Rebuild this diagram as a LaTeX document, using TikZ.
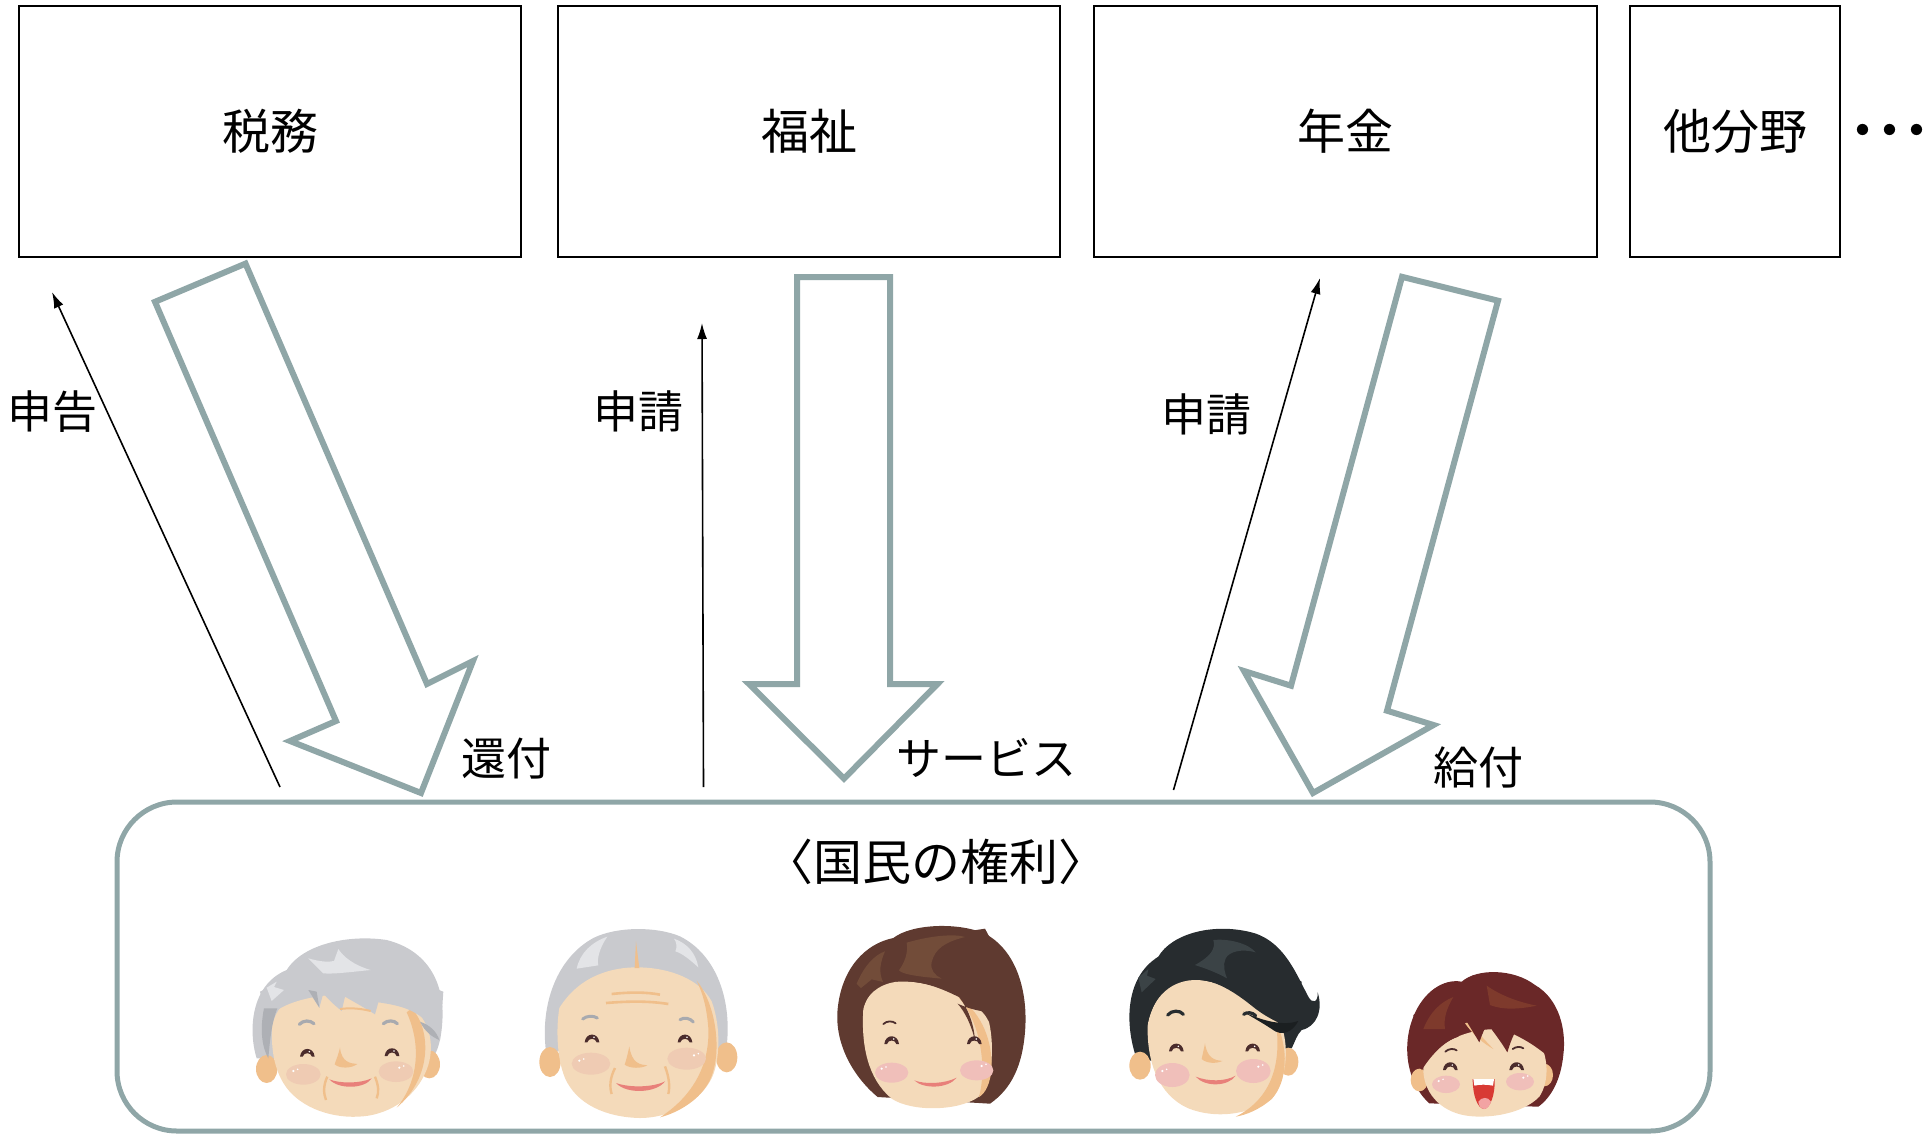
\documentclass[tikz,border=0pt]{standalone}
\usepackage{fontspec}
\setmainfont{Noto Sans CJK JP}
\usetikzlibrary{arrows.meta}

\definecolor{flowc}{HTML}{8FA6A7}
\definecolor{skin}{HTML}{F4DABA}
\definecolor{skinshade}{HTML}{F0BF8B}
\definecolor{cheekold}{HTML}{EFCBB3}
\definecolor{cheekpink}{HTML}{F0BFBA}
\definecolor{mouthc}{HTML}{E8807A}
\definecolor{eyec}{HTML}{4B2C2C}
\definecolor{grayhair}{HTML}{C9CACE}
\definecolor{grayhl}{HTML}{E3E4E7}
\definecolor{grayshadow}{HTML}{AEB0B5}
\definecolor{graybrow}{HTML}{A8AAAF}
\definecolor{brownhair}{HTML}{5F3A30}
\definecolor{brownhl}{HTML}{724C39}
\definecolor{blackhair}{HTML}{272C2F}
\definecolor{blackhl}{HTML}{3B4346}
\definecolor{blackdark}{HTML}{1B1F21}
\definecolor{redhair}{HTML}{6A2828}
\definecolor{redhl}{HTML}{7E3A2C}
\definecolor{mouthred}{HTML}{D83A34}
\definecolor{tongue}{HTML}{F2A3A3}

\tikzset{
  dept/.style={draw=black, line width=1pt, minimum height=125.5pt, inner sep=0pt,
    font=\fontsize{24}{28}\selectfont},
  flow/.style={draw=flowc, line width=3pt, fill=white, line join=miter},
  req/.style={draw=black, line width=0.8pt, -{Latex[length=8pt,width=5pt]}},
  lbl/.style={font=\fontsize{22.5}{26}\selectfont, inner sep=0pt},
  pics/closedeye/.style={code={
    \fill[eyec] (-22,9) .. controls (-19,-22) and (19,-22) .. (22,9)
      -- (14,9) .. controls (11,-5) and (-11,-5) .. (-14,9) -- cycle;
    \fill[white] (6,-6) circle[radius=2.6];
  }},
  pics/glint/.style={code={
    \fill[white] (0,0) circle[radius=3.6];
    \fill[white] (13,-5) circle[radius=2.6];
  }},
}

\begin{document}
\begin{tikzpicture}[x=0.5pt,y=-0.5pt]
\useasboundingbox (0,0) rectangle (1932,1136);

% ---------- departments ----------
\node (zeimu)  [dept, minimum width=251.25pt] at (270,131.5)  {税務};
\node (fukushi)[dept, minimum width=251pt]    at (809,131.5)  {福祉};
\node (nenkin) [dept, minimum width=251.5pt]  at (1345.5,131.5) {年金};
\node (hoka)   [dept, minimum width=105pt]    at (1735,131.5) {他分野};
\node (etc) [font=\fontsize{27}{30}\selectfont\bfseries, inner sep=0pt] at (1890,137) {･･･};

% ---------- citizens ----------
\node (kokumin) [draw=flowc, line width=2.5pt, rounded corners=30pt,
  minimum width=796.5pt, minimum height=164.5pt] at (913.5,966.5) {};
\node (kenri) [lbl, font=\fontsize{24.5}{28}\selectfont] at (936,862) {〈国民の権利〉};

% ---------- requests (citizen -> office) ----------
\coordinate (shinkokuS) at (280,787);
\coordinate (shinkokuE) at (52,292);
\coordinate (shinsei1S) at (703.5,787);
\coordinate (shinsei1E) at (702,323);
\coordinate (shinsei2S) at (1173.5,790);
\coordinate (shinsei2E) at (1320,278);
\draw[req] (shinkokuS) -- (shinkokuE);
\draw[req] (shinsei1S) -- (shinsei1E);
\draw[req] (shinsei2S) -- (shinsei2E);

% ---------- benefits (office -> citizen) ----------
\draw[flow] (245.5,263.6) -- (155,301.8) -- (336,721) -- (290,741) -- (421,793)
  -- (473,661) -- (427,684) -- cycle;
\draw[flow] (797,277) -- (890,277) -- (890,684) -- (937.5,684) -- (844,778.6)
  -- (749,684) -- (797,684) -- cycle;
\draw[flow] (1402,276.8) -- (1498,300.7) -- (1387,710.7) -- (1433.5,725) -- (1313,793)
  -- (1244,671) -- (1291,685.7) -- cycle;

% ---------- labels ----------
\node (lshinkoku) [lbl] at (53,411.5) {申告};
\node (lshinsei1) [lbl] at (638,411.5) {申請};
\node (lshinsei2) [lbl] at (1206,414) {申請};
\node (lkanpu)    [lbl] at (506,759) {還付};
\node (lservice)  [lbl] at (986,758) {サービス};
\node (lkyufu)    [lbl] at (1478.5,767.5) {給付};

% ---------- grandmother ----------
\begin{scope}[shift={(240,925)}, scale=1/3]
  \fill[grayhair] (50,400) .. controls (25,320) and (30,180) .. (140,135)
    .. controls (190,55) and (330,28) .. (440,45)
    .. controls (560,75) and (615,170) .. (607,290)
    .. controls (603,360) and (585,400) .. (560,420) -- cycle;
  \fill[skinshade] (80,432) ellipse[x radius=32, y radius=42];
  \fill[skinshade] (568,418) ellipse[x radius=32, y radius=42];
  \fill[skin] (100,265) .. controls (88,360) and (100,440) .. (145,495)
    .. controls (200,560) and (300,585) .. (385,572)
    .. controls (470,558) and (540,500) .. (565,420)
    .. controls (585,350) and (565,285) .. (515,245)
    .. controls (420,190) and (180,195) .. (100,265) -- cycle;
  \fill[skinshade] (515,250) .. controls (572,310) and (580,455) .. (470,548)
    .. controls (535,470) and (545,360) .. (500,262) -- cycle;
  \fill[grayhair] (92,330) .. controls (95,270) and (130,215) .. (200,190) -- (238,248)
    -- (250,205) .. controls (270,230) and (290,245) .. (305,258) -- (315,215)
    .. controls (350,235) and (385,255) .. (405,268) -- (415,232)
    .. controls (470,240) and (520,250) .. (560,290)
    .. controls (590,320) and (600,340) .. (600,345) -- (610,200) -- (300,80) -- (60,200) -- cycle;
  \fill[grayshadow] (72,250) .. controls (58,320) and (68,370) .. (85,400)
    .. controls (90,340) and (96,290) .. (112,250) -- cycle;
  \fill[grayshadow] (205,195) -- (238,248) -- (230,200) -- cycle;
  \fill[grayshadow] (540,290) .. controls (570,300) and (590,320) .. (598,345)
    .. controls (575,335) and (555,320) .. (540,290) -- cycle;
  \fill[grayhl] (205,100) .. controls (240,110) and (265,112) .. (282,108) -- (295,72)
    .. controls (310,95) and (340,120) .. (392,135)
    .. controls (340,140) and (280,148) .. (250,145)
    .. controls (235,130) and (220,115) .. (205,100) -- cycle;
  \fill[grayhl] (80,188) -- (110,170) -- (102,186) -- (132,195) -- (95,228) -- cycle;
  \draw[skinshade, line width=1pt] (300,252) .. controls (330,248) and (360,250) .. (392,258);
  \draw[graybrow, line width=1.6pt, line cap=round] (178,298) .. controls (190,285) and (210,285) .. (222,296);
  \draw[graybrow, line width=1.6pt, line cap=round] (430,296) .. controls (442,285) and (462,285) .. (472,296);
  \pic[transform shape] at (202,386) {closedeye};
  \pic[transform shape] at (456,384) {closedeye};
  \fill[cheekold] (190,448) ellipse[x radius=52, y radius=31];
  \fill[cheekold] (468,440) ellipse[x radius=52, y radius=31];
  \pic[transform shape] at (160,438) {glint};
  \pic[transform shape] at (478,428) {glint};
  \fill[skinshade] (300,368) .. controls (295,390) and (288,405) .. (284,418)
    .. controls (300,432) and (335,430) .. (352,417)
    .. controls (330,415) and (305,412) .. (300,368) -- cycle;
  \fill[mouthc] (268,463) .. controls (300,476) and (360,476) .. (395,460)
    .. controls (375,492) and (295,494) .. (268,463) -- cycle;
  \draw[skinshade, line width=1.2pt] (262,455) .. controls (250,480) and (250,505) .. (258,525);
  \draw[skinshade, line width=1.2pt] (405,455) .. controls (415,480) and (418,500) .. (410,520);
\end{scope}

% ---------- grandfather ----------
\begin{scope}[shift={(530,918)}, scale=1/3]
  \fill[grayhair] (48,400) .. controls (30,260) and (80,120) .. (190,60)
    .. controls (260,25) and (380,25) .. (450,55)
    .. controls (560,110) and (610,250) .. (588,400) -- cycle;
  \fill[skinshade] (60,432) ellipse[x radius=32, y radius=45];
  \fill[skinshade] (590,418) ellipse[x radius=32, y radius=45];
  \fill[skin] (88,270) .. controls (150,170) and (250,148) .. (320,148)
    .. controls (420,148) and (510,185) .. (545,250)
    .. controls (575,330) and (570,440) .. (540,490)
    .. controls (500,560) and (410,600) .. (330,600)
    .. controls (230,598) and (140,560) .. (105,480)
    .. controls (80,420) and (78,330) .. (88,270) -- cycle;
  \fill[skinshade] (500,188) .. controls (560,260) and (582,420) .. (532,500)
    .. controls (500,552) and (440,585) .. (390,598)
    .. controls (480,540) and (540,450) .. (535,330)
    .. controls (530,270) and (520,230) .. (500,188) -- cycle;
  \fill[grayhl] (140,152) .. controls (150,105) and (185,72) .. (232,56)
    .. controls (208,90) and (200,125) .. (205,142) -- cycle;
  \fill[grayhl] (432,62) .. controls (470,75) and (498,105) .. (505,148)
    .. controls (480,125) and (455,105) .. (436,100)
    .. controls (442,88) and (440,72) .. (432,62) -- cycle;
  \fill[skinshade] (318,70) -- (314,150) -- (328,150) -- cycle;
  \draw[skinshade, line width=1.3pt] (245,228) .. controls (300,222) and (350,222) .. (390,230);
  \draw[skinshade, line width=1.3pt] (228,255) .. controls (300,249) and (360,249) .. (415,258);
  \draw[graybrow, line width=1.5pt, line cap=round] (158,303) .. controls (170,293) and (190,292) .. (202,300);
  \draw[graybrow, line width=1.5pt, line cap=round] (450,305) .. controls (462,297) and (480,300) .. (490,312);
  \pic[transform shape] at (186,364) {closedeye};
  \pic[transform shape] at (465,364) {closedeye};
  \fill[cheekold] (183,437) ellipse[x radius=58, y radius=33];
  \fill[cheekold] (470,422) ellipse[x radius=58, y radius=33];
  \pic[transform shape] at (148,428) {glint};
  \pic[transform shape] at (492,412) {glint};
  \fill[skinshade] (298,385) .. controls (293,410) and (288,428) .. (284,440)
    .. controls (300,452) and (335,452) .. (352,442)
    .. controls (330,440) and (305,436) .. (298,385) -- cycle;
  \fill[mouthc] (258,495) .. controls (300,510) and (370,508) .. (405,490)
    .. controls (380,525) and (290,530) .. (258,495) -- cycle;
  \draw[skinshade, line width=1.2pt] (255,450) .. controls (240,480) and (238,505) .. (245,528);
  \draw[skinshade, line width=1.2pt] (405,445) .. controls (418,480) and (420,505) .. (415,528);
\end{scope}

% ---------- woman ----------
\begin{scope}[shift={(825,912)}, scale=1/3]
  \fill[brownhair] (158,555) .. controls (80,490) and (28,390) .. (38,290)
    .. controls (50,170) and (120,95) .. (205,78)
    .. controls (260,35) and (400,30) .. (480,65)
    .. controls (575,115) and (610,240) .. (600,360)
    .. controls (592,460) and (560,530) .. (495,575) -- cycle;
  \fill[skin] (115,290) .. controls (108,400) and (128,500) .. (200,560)
    .. controls (260,600) and (400,598) .. (460,555)
    .. controls (505,505) and (508,400) .. (492,330)
    .. controls (455,250) and (300,200) .. (210,210)
    .. controls (160,218) and (122,250) .. (115,290) -- cycle;
  \fill[skinshade] (400,255) .. controls (460,295) and (500,370) .. (500,460)
    .. controls (498,515) and (480,545) .. (462,555)
    .. controls (485,470) and (470,335) .. (400,255) -- cycle;
  \fill[brownhair] (112,300) .. controls (125,240) and (165,210) .. (212,205)
    .. controls (300,205) and (360,235) .. (402,255)
    .. controls (430,290) and (448,340) .. (450,388)
    .. controls (440,340) and (420,300) .. (398,275)
    .. controls (430,290) and (470,300) .. (500,300)
    -- (560,200) -- (480,50) -- (150,100) -- cycle;
  \fill[brownhl] (245,92) .. controls (320,70) and (390,65) .. (420,75)
    .. controls (360,90) and (330,110) .. (320,150)
    .. controls (315,175) and (330,190) .. (350,200) -- (300,195)
    .. controls (260,190) and (232,185) .. (222,175)
    .. controls (240,150) and (250,120) .. (245,92) -- cycle;
  \fill[brownhl] (95,215) .. controls (118,160) and (150,128) .. (180,118)
    .. controls (166,150) and (160,180) .. (174,210) -- (140,202) -- (108,228) -- cycle;
  \draw[eyec, line width=0.9pt, line cap=round] (175,336) .. controls (185,326) and (203,326) .. (212,334);
  \pic[transform shape] at (200,387) {closedeye};
  \pic[transform shape] at (448,387) {closedeye};
  \fill[cheekpink] (200,482) ellipse[x radius=50, y radius=30];
  \fill[cheekpink] (455,475) ellipse[x radius=50, y radius=30];
  \pic[transform shape] at (170,470) {glint};
  \pic[transform shape] at (470,462) {glint};
  \fill[mouthc] (268,505) .. controls (300,518) and (360,515) .. (395,497)
    .. controls (370,530) and (295,532) .. (268,505) -- cycle;
\end{scope}

% ---------- man ----------
\begin{scope}[shift={(1115,915)}, scale=1/3]
  \fill[blackhair] (68,440) .. controls (30,340) and (25,190) .. (130,125)
    .. controls (170,55) and (300,20) .. (420,55)
    .. controls (510,85) and (545,180) .. (580,245)
    .. controls (592,268) and (610,262) .. (608,232)
    .. controls (625,285) and (605,335) .. (560,345)
    .. controls (545,360) and (540,380) .. (530,400) -- cycle;
  \fill[skinshade] (75,452) ellipse[x radius=32, y radius=42];
  \fill[skinshade] (520,440) ellipse[x radius=30, y radius=42];
  \fill[skin] (98,330) .. controls (95,440) and (130,540) .. (220,580)
    .. controls (300,612) and (400,600) .. (470,552)
    .. controls (510,500) and (522,420) .. (505,350)
    .. controls (460,265) and (350,205) .. (250,195)
    .. controls (170,192) and (112,245) .. (98,330) -- cycle;
  \fill[skinshade] (482,318) .. controls (522,400) and (518,500) .. (470,552)
    .. controls (432,585) and (392,600) .. (362,605)
    .. controls (452,560) and (505,470) .. (482,318) -- cycle;
  \fill[blackhair] (95,340) .. controls (110,250) and (160,200) .. (215,192)
    .. controls (300,185) and (370,240) .. (420,280)
    .. controls (460,310) and (500,330) .. (540,340) -- (560,200) -- (300,60) -- (80,200) -- cycle;
  \fill[blackdark] (385,290) .. controls (450,322) and (510,332) .. (550,318)
    .. controls (532,352) and (500,366) .. (470,342)
    .. controls (440,322) and (410,306) .. (385,290) -- cycle;
  \fill[blackhl] (240,150) .. controls (290,122) and (302,100) .. (295,75)
    .. controls (340,70) and (400,85) .. (422,112)
    .. controls (380,100) and (342,110) .. (332,130)
    .. controls (322,150) and (330,175) .. (336,190)
    .. controls (300,170) and (270,160) .. (240,150) -- cycle;
  \fill[blackhl] (70,188) -- (100,162) -- (96,182) -- (122,192) -- (80,232) -- cycle;
  \draw[blackhair, line width=1.6pt, line cap=round] (158,300) .. controls (170,285) and (195,285) .. (205,298);
  \draw[blackhair, line width=1.6pt, line cap=round] (386,298) .. controls (396,290) and (412,292) .. (422,302);
  \pic[transform shape] at (184,400) {closedeye};
  \pic[transform shape] at (413,400) {closedeye};
  \fill[skinshade] (270,385) .. controls (266,405) and (262,422) .. (260,432)
    .. controls (275,446) and (305,446) .. (322,438)
    .. controls (300,436) and (276,430) .. (270,385) -- cycle;
  \fill[cheekpink] (172,480) ellipse[x radius=52, y radius=36];
  \fill[cheekpink] (415,468) ellipse[x radius=52, y radius=36];
  \pic[transform shape] at (142,468) {glint};
  \pic[transform shape] at (430,455) {glint};
  \fill[mouthc] (242,485) .. controls (280,500) and (330,500) .. (362,482)
    .. controls (340,515) and (270,517) .. (242,485) -- cycle;
\end{scope}

% ---------- child ----------
\begin{scope}[shift={(1390,955)}, scale=1/3]
  \fill[redhair] (118,445) .. controls (55,390) and (32,280) .. (70,185)
    .. controls (100,110) and (160,70) .. (215,80)
    .. controls (260,40) and (370,40) .. (435,90)
    .. controls (505,130) and (530,220) .. (520,300)
    .. controls (512,380) and (480,430) .. (445,455) -- cycle;
  \fill[skinshade] (88,375) ellipse[x radius=26, y radius=34];
  \fill[skinshade] (463,360) ellipse[x radius=26, y radius=34];
  \fill[skin] (100,330) .. controls (95,410) and (150,470) .. (230,482)
    .. controls (300,492) and (400,475) .. (448,425)
    .. controls (478,380) and (475,310) .. (450,265)
    .. controls (390,200) and (180,200) .. (100,330) -- cycle;
  \fill[skinshade] (225,205) .. controls (250,240) and (280,265) .. (310,282)
    .. controls (280,250) and (255,225) .. (240,200) -- cycle;
  \fill[redhair] (95,345) .. controls (130,290) and (170,255) .. (205,245)
    .. controls (215,225) and (222,208) .. (228,196) -- (268,262)
    .. controls (276,238) and (284,220) .. (292,206)
    .. controls (318,240) and (338,268) .. (352,292)
    .. controls (358,272) and (364,254) .. (372,238)
    .. controls (410,256) and (440,276) .. (472,302) -- (480,150) -- (250,60) -- (70,180) -- cycle;
  \fill[redhl] (290,92) .. controls (330,120) and (380,140) .. (440,152)
    .. controls (390,162) and (340,166) .. (300,150) -- cycle;
  \fill[redhl] (100,222) .. controls (120,172) and (150,142) .. (190,126)
    .. controls (170,160) and (160,190) .. (165,222) -- cycle;
  \draw[eyec, line width=0.9pt, line cap=round] (166,290) .. controls (176,280) and (192,280) .. (200,286);
  \draw[eyec, line width=0.9pt, line cap=round] (368,282) .. controls (378,274) and (392,274) .. (400,280);
  \pic[transform shape] at (181,336) {closedeye};
  \pic[transform shape] at (380,336) {closedeye};
  \fill[cheekpink] (168,388) ellipse[x radius=42, y radius=26];
  \fill[cheekpink] (390,380) ellipse[x radius=42, y radius=26];
  \pic[transform shape] at (146,378) {glint};
  \pic[transform shape] at (400,368) {glint};
  \fill[mouthred] (248,372) -- (314,372) .. controls (316,420) and (300,460) .. (282,462)
    .. controls (262,460) and (248,420) .. (248,372) -- cycle;
  \fill[white] (250,372) -- (312,372) -- (309,392) .. controls (290,388) and (270,388) .. (253,392) -- cycle;
  \fill[tongue] (265,440) .. controls (275,425) and (295,425) .. (303,440)
    .. controls (298,455) and (290,462) .. (282,462)
    .. controls (272,460) and (266,452) .. (265,440) -- cycle;
\end{scope}

\end{tikzpicture}
\end{document}
